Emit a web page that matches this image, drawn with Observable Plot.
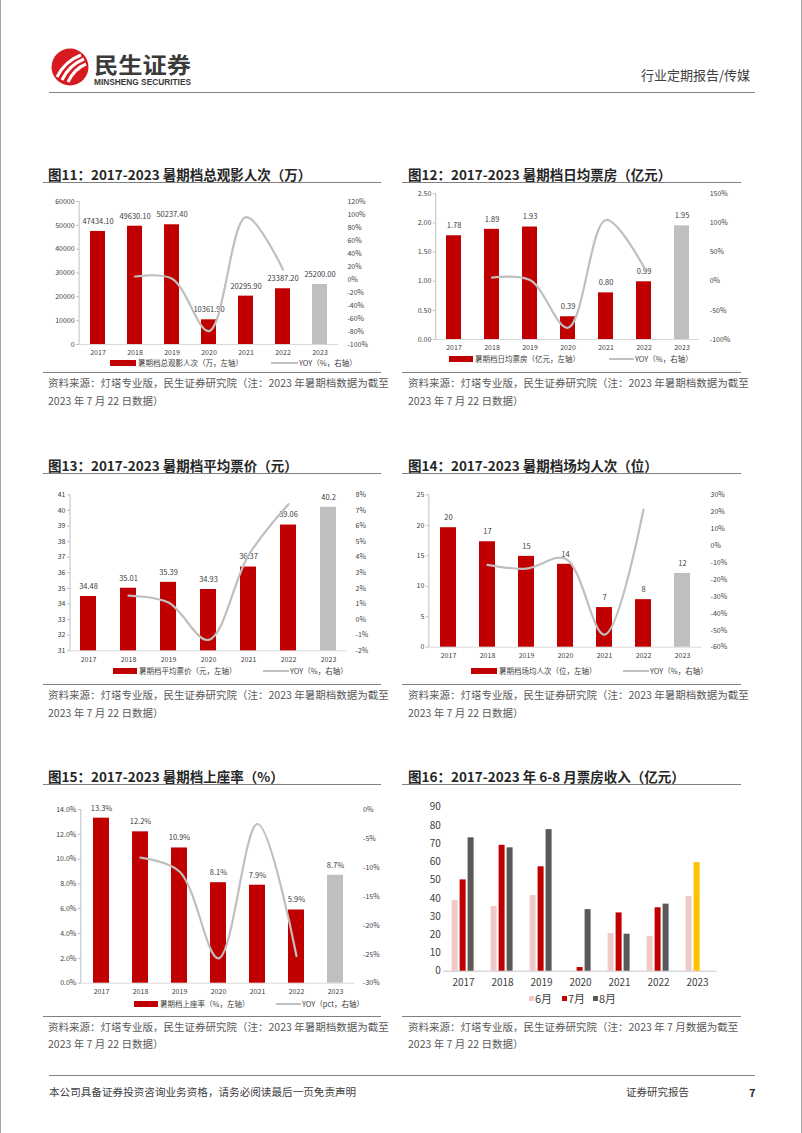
<!DOCTYPE html>
<html><head><meta charset="utf-8">
<script src="https://cdn.jsdelivr.net/npm/d3@7"></script>
<script src="https://cdn.jsdelivr.net/npm/@observablehq/plot@0.6"></script>
<style>
body{margin:0;background:#fff;font-family:"Noto Sans CJK SC","Noto Sans",sans-serif;}
#page{position:relative;width:802px;height:1133px;overflow:hidden;box-sizing:border-box;border-left:1px solid #a6a6a6;border-right:1px solid #a6a6a6;background:#fff;}
.abs{position:absolute;white-space:nowrap;line-height:1;}
.title{font-weight:bold;font-size:13.5px;color:#262626;}
.src{font-size:10.5px;color:#595959;}
.leg{font-size:7.5px;color:#404040;}
.hl{position:absolute;height:0;}
</style></head><body><div id="page"></div>
<script>
// ---------- data ----------
const years = ["2017","2018","2019","2020","2021","2022","2023"];
const admissions = [47434.10, 49630.10, 50237.40, 10361.90, 20295.90, 23387.20, 25200.00];
const admissionsYoy = [null, 4.6, 1.2, -79.4, 95.9, 15.2, null];
const dailyBox = [1.78, 1.89, 1.93, 0.39, 0.80, 0.99, 1.95];
const dailyBoxYoy = [null, 6.2, 2.1, -79.8, 105.1, 23.8, null];
const avgPrice = [34.48, 35.01, 35.39, 34.93, 36.37, 39.06, 40.2];
const avgPriceYoy = [null, 1.54, 1.09, -1.30, 4.12, 7.40, null];
const perShow = [19.6, 17.3, 14.9, 13.6, 6.5, 7.8, 12.1];
const perShowYoy = [null, -11.4, -13.6, -7.7, -52.6, 21.3, null];
const occupancy = [13.3, 12.2, 10.9, 8.1, 7.9, 5.9, 8.7];
const occupancyYoy = [null, -8.3, -10.7, -25.7, -2.5, -25.3, null];
const months = ["6月", "7月", "8月"];
const juneBox = [38.8, 35.5, 41.5, 0, 20.7, 19.0, 41.0];
const julyBox = [50.1, 69.1, 57.3, 2.0, 32.0, 34.8, 59.6];
const augustBox = [73.2, 67.7, 77.7, 33.8, 20.3, 36.8, null];

const ticks11 = [0, 10000, 20000, 30000, 40000, 50000, 60000];
const rticks11 = [-100, -80, -60, -40, -20, 0, 20, 40, 60, 80, 100, 120];
const ticks12 = [0, 0.5, 1, 1.5, 2, 2.5];
const rticks12 = [-100, -50, 0, 50, 100, 150];
const ticks13 = [31, 32, 33, 34, 35, 36, 37, 38, 39, 40, 41];
const rticks13 = [-2, -1, 0, 1, 2, 3, 4, 5, 6, 7, 8];
const ticks14 = [0, 5, 10, 15, 20, 25];
const rticks14 = [-60, -50, -40, -30, -20, -10, 0, 10, 20, 30];
const ticks15 = [0, 2, 4, 6, 8, 10, 12, 14];
const rticks15 = [-30, -25, -20, -15, -10, -5, 0];
const ticks16 = [0, 10, 20, 30, 40, 50, 60, 70, 80, 90];

// ---------- helpers ----------
const RED = "#C00000", BAR_GRAY = "#BFBFBF", LINE_GRAY = "#BFBFBF", TXT = "#404040";
const FONT = '"Noto Sans CJK SC","Noto Sans",sans-serif';
const page = document.getElementById("page");
function place(node, left, top) {
  const d = document.createElement("div");
  d.className = "abs"; d.style.left = left + "px"; d.style.top = top + "px";
  d.appendChild(node); page.appendChild(d); return d;
}
function txt(str, left, cy, cls, css) {
  const d = document.createElement("div");
  d.className = "abs " + cls; d.textContent = str;
  d.style.left = left + "px"; d.style.top = cy + "px"; d.style.transform = "translateY(-50%)";
  if (css) Object.assign(d.style, css);
  page.appendChild(d); return d;
}
function hline(x1, x2, y, color, w) {
  const d = document.createElement("div");
  d.className = "hl"; d.style.left = x1 + "px"; d.style.width = (x2 - x1) + "px";
  d.style.top = (y - w / 2) + "px"; d.style.borderTop = w + "px solid " + color;
  page.appendChild(d);
}
function box(x, y, w, h, color) {
  const d = document.createElement("div");
  d.className = "abs"; Object.assign(d.style, {left: x + "px", top: (y - h / 2) + "px", width: w + "px", height: h + "px", background: color});
  page.appendChild(d);
}
function leftAxisLine(index, scales, values, dims) {
  const l = document.createElementNS("http://www.w3.org/2000/svg", "line");
  l.setAttribute("x1", dims.marginLeft); l.setAttribute("x2", dims.marginLeft);
  l.setAttribute("y1", dims.marginTop); l.setAttribute("y2", dims.height - dims.marginBottom);
  l.setAttribute("stroke", "#BFBFBF"); l.setAttribute("stroke-width", 1);
  return l;
}

function dualChart(o) {
  const [y0, y1] = o.yDomain, [r0, r1] = o.rDomain;
  const toL = v => y0 + (v - r0) / (r1 - r0) * (y1 - y0);
  const fromL = v => r0 + (v - y0) / (y1 - y0) * (r1 - r0);
  const rows = years.map((y, i) => ({
    year: y, value: o.values[i], label: o.label(o.values[i]),
    fill: y === "2023" ? BAR_GRAY : RED,
    yoy: o.yoy[i] == null ? null : toL(o.yoy[i])
  }));
  const lineRows = rows.filter(d => d.yoy != null);
  const svg = Plot.plot({
    width: o.w, height: o.h,
    marginLeft: o.ml, marginRight: o.mr, marginTop: o.mt, marginBottom: o.mb,
    x: {domain: years, type: "band", paddingInner: 0.6, paddingOuter: 0.25, axis: null, label: null},
    y: {domain: o.yDomain, axis: null, label: null},
    color: {type: "identity"},
    style: {fontFamily: FONT, background: "transparent", color: TXT, overflow: "visible"},
    marks: [
      Plot.ruleY([y0], {stroke: "#D9D9D9", strokeWidth: 1}),
      leftAxisLine,
      Plot.barY(rows, {x: "year", y1: y0, y2: "value", fill: "fill"}),
      Plot.text(rows, {x: "year", y: "value", text: "label", dy: -10, fill: TXT, fontSize: 7.5}),
      Plot.line(lineRows, {x: "year", y: "yoy", stroke: LINE_GRAY, strokeWidth: 2.2, curve: "catmull-rom"}),
      Plot.axisY(o.yTicks, {anchor: "left", label: null, tickSize: 3, tickPadding: 2, stroke: "#BFBFBF", fill: TXT, fontSize: 7, tickFormat: o.yFmt}),
      Plot.axisY(o.rTicks.map(toL), {anchor: "right", label: null, tickSize: 0, tickPadding: o.rPad, fill: TXT, fontSize: 7, tickFormat: d => o.rFmt(Math.round(fromL(d)))}),
      Plot.axisX({anchor: "bottom", label: null, tickSize: 0, tickPadding: 6, fill: TXT, fontSize: 7})
    ]
  });
  place(svg, o.left, o.top);
}

function legendDual(rx, tx, lx, tx2, cy, lab1, lab2) {
  box(rx, cy, tx - rx - 2, 5.5, RED);
  txt(lab1, tx, cy, "leg");
  box(lx, cy, tx2 - lx - 1, 2, LINE_GRAY);
  txt(lab2, tx2, cy, "leg");
}

// ---------- header ----------
(function header() {
  const ns = "http://www.w3.org/2000/svg";
  const s = document.createElementNS(ns, "svg");
  s.setAttribute("width", 160); s.setAttribute("height", 44);
  s.innerHTML = `
    <circle cx="19" cy="20" r="18.5" fill="#D71920"/>
    <path d="M6 30 Q14 14 30 8" stroke="#fff" stroke-width="3" fill="none"/>
    <path d="M11 33 Q18 18 33 12" stroke="#fff" stroke-width="3" fill="none"/>
    <path d="M17 35 Q23 22 35 17" stroke="#fff" stroke-width="3" fill="none"/>
    <text x="43" y="26" font-size="22" font-weight="bold" fill="#3a3a3a" font-family='${FONT}' textLength="97" lengthAdjust="spacingAndGlyphs">民生证券</text>
    <text x="43" y="38" font-size="8.5" font-weight="bold" fill="#3a3a3a" font-family="Liberation Sans, Arial, sans-serif" textLength="97" lengthAdjust="spacingAndGlyphs">MINSHENG SECURITIES</text>`;
  place(s, 50, 47);
  txt("行业定期报告/传媒", 640, 74, "", {fontSize: "13px", color: "#404040"});
  hline(48, 754, 93, "#808080", 1.5);
  hline(48, 754, 1076, "#808080", 1.2);
  txt("本公司具备证券投资咨询业务资格，请务必阅读最后一页免责声明", 48, 1092, "", {fontSize: "10.6px", color: "#404040"});
  txt("证券研究报告", 625, 1092, "", {fontSize: "10.5px", color: "#404040"});
  txt("7", 748, 1092, "", {fontSize: "11px", color: "#262626", fontWeight: "bold"});
})();

// ---------- titles, rules, sources ----------
const srcA = "资料来源：灯塔专业版，民生证券研究院（注：2023 年暑期档数据为截至";
const srcB = "2023 年 7 月 22 日数据）";
const srcC = "资料来源：灯塔专业版，民生证券研究院（注：2023 年 7 月数据为截至";
function frame(col, titleY, lineY, botY, title, s1) {
  const x = col === 0 ? 47 : 407;
  const [a, b] = col === 0 ? [42, 380] : [401, 740];
  txt(title, x, titleY, "title");
  hline(a, b, lineY, "#7f7f7f", 1.5);
  hline(a, b, botY, "#7f7f7f", 1.5);
  txt(s1, x, botY + 10, "src");
  txt(srcB, x, botY + 27.5, "src");
}
frame(0, 175, 183, 373, "图11：2017-2023 暑期档总观影人次（万）", srcA);
frame(1, 175, 183, 373, "图12：2017-2023 暑期档日均票房（亿元）", srcA);
frame(0, 466, 474, 685, "图13：2017-2023 暑期档平均票价（元）", srcA);
frame(1, 466, 474, 685, "图14：2017-2023 暑期档场均人次（位）", srcA);
frame(0, 777, 785, 1016.7, "图15：2017-2023 暑期档上座率（%）", srcA);
frame(1, 777, 785, 1016.7, "图16：2017-2023 年 6-8 月票房收入（亿元）", srcC);

// ---------- charts 11-15 ----------
dualChart({left: 40, top: 188, w: 345, h: 172, ml: 38.1, mr: 48.1, mt: 13, mb: 16, rPad: 9,
  values: admissions, yoy: admissionsYoy, label: v => v.toFixed(2),
  yDomain: [0, 60000], yTicks: ticks11, yFmt: d => String(d),
  rDomain: [-100, 120], rTicks: rticks11, rFmt: v => v + "%"});
legendDual(109, 137, 270, 298, 363, "暑期档总观影人次（万，左轴）", "YOY（%，右轴）");

dualChart({left: 400, top: 182, w: 370, h: 173, ml: 34.8, mr: 71.8, mt: 11.3, mb: 16, rPad: 10,
  values: dailyBox, yoy: dailyBoxYoy, label: v => v.toFixed(2),
  yDomain: [0, 2.5], yTicks: ticks12, yFmt: d => d.toFixed(2),
  rDomain: [-100, 150], rTicks: rticks12, rFmt: v => v + "%"});
legendDual(448, 474, 608, 634, 359, "暑期档日均票房（亿元，左轴）", "YOY（%，右轴）");

dualChart({left: 40, top: 484, w: 345, h: 183, ml: 29, mr: 40, mt: 10.3, mb: 16.7, rPad: 9,
  values: avgPrice, yoy: avgPriceYoy, label: v => String(v),
  yDomain: [31, 41], yTicks: ticks13, yFmt: d => String(d),
  rDomain: [-2, 8], rTicks: rticks13, rFmt: v => v + "%"});
legendDual(112, 138, 262, 289, 671, "暑期档平均票价（元，左轴）", "YOY（%，右轴）");

dualChart({left: 400, top: 484, w: 370, h: 179, ml: 27.9, mr: 69.5, mt: 10.3, mb: 16.3, rPad: 8.5,
  values: perShow, yoy: perShowYoy, label: v => String(Math.round(v)),
  yDomain: [0, 25], yTicks: ticks14, yFmt: d => String(d),
  rDomain: [-60, 30], rTicks: rticks14, rFmt: v => v + "%"});
legendDual(470, 498, 622, 649, 671, "暑期档场均人次（位，左轴）", "YOY（%，右轴）");

dualChart({left: 40, top: 798, w: 345, h: 201, ml: 39.8, mr: 31.5, mt: 11, mb: 16.3, rPad: 8,
  values: occupancy, yoy: occupancyYoy, label: v => v.toFixed(1) + "%",
  yDomain: [0, 14], yTicks: ticks15, yFmt: d => d.toFixed(1) + "%",
  rDomain: [-30, 0], rTicks: rticks15, rFmt: v => v + "%"});
legendDual(133, 159, 275, 301, 1004, "暑期档上座率（%，左轴）", "YOY（pct，右轴）");

// ---------- chart 16 ----------
(function chart16() {
  const series = [juneBox, julyBox, augustBox];
  const monthColors = ["#F0C8C8", RED, "#595959"];
  const rows = [];
  years.forEach((y, i) => series.forEach((arr, k) => {
    if (arr[i] != null) rows.push({year: y, month: months[k], value: arr[i],
      fill: (y === "2023" && k === 1) ? "#FFC000" : monthColors[k]});
  }));
  const svg = Plot.plot({
    width: 370, height: 197, marginLeft: 41.4, marginRight: 54.2, marginTop: 11.7, marginBottom: 21.3,
    fx: {domain: years, paddingInner: 0.334, paddingOuter: 0.167, axis: null, label: null},
    x: {domain: months, paddingInner: 0.23, paddingOuter: 0.115, axis: null, label: null},
    y: {domain: [0, 90], axis: null, label: null},
    color: {type: "identity"},
    style: {fontFamily: FONT, background: "transparent", color: TXT, overflow: "visible"},
    marks: [
      Plot.ruleY([0], {stroke: "#D9D9D9", strokeWidth: 1.5, insetLeft: -6.6, insetRight: -6.6}),
      Plot.barY(rows, {fx: "year", x: "month", y: "value", fill: "fill"}),
      Plot.axisY(ticks16, {anchor: "left", label: null, tickSize: 0, tickPadding: 9.7, fill: TXT, fontSize: 10, tickFormat: d => String(d)}),
      Plot.axisFx({anchor: "bottom", label: null, tickSize: 0, tickPadding: 8, fill: TXT, fontSize: 10})
    ]
  });
  place(svg, 400, 795);
  const items = [[528, 534, "6月"], [561, 567, "7月"], [592, 598, "8月"]];
  items.forEach(([bx, tx, lab], k) => {
    box(bx, 998, 5, 5, monthColors[k]);
    txt(lab, tx, 998, "", {fontSize: "11px", color: TXT});
  });
})();
</script></body></html>
